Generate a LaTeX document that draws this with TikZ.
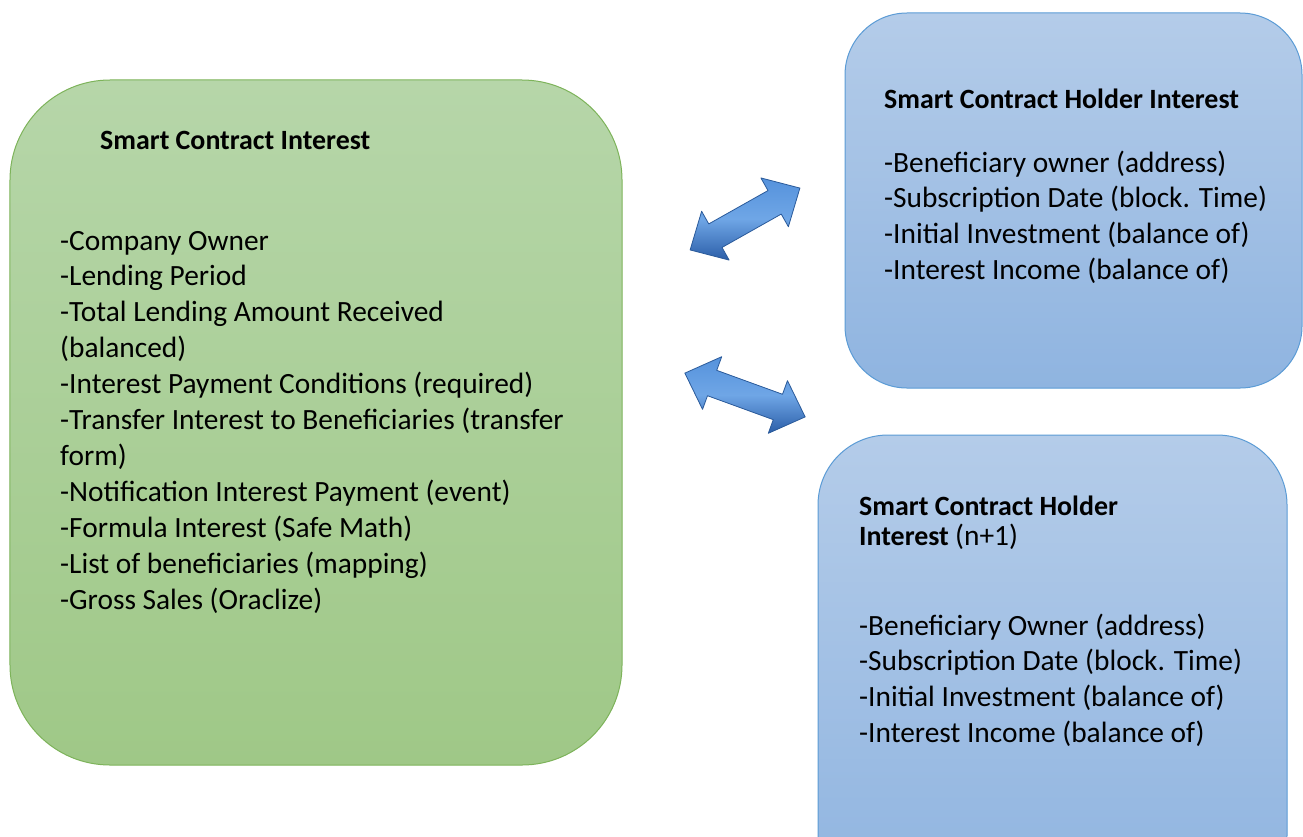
\documentclass[tikz,border=0pt]{standalone}
\usepackage{fontspec}
\setmainfont{Carlito}
\definecolor{grnT}{HTML}{B6D6A9}
\definecolor{grnB}{HTML}{9FC887}
\definecolor{grnE}{HTML}{7DB35A}
\definecolor{bluT}{HTML}{B4CCE9}
\definecolor{bluB}{HTML}{8FB4E0}
\definecolor{bluE}{HTML}{5B9BD5}
\definecolor{arrT}{HTML}{5592DC}
\definecolor{arrM}{HTML}{6FA6E6}
\definecolor{arrB}{HTML}{2B5EA8}
\definecolor{arrE}{HTML}{2A5A9A}
\begin{document}
\begin{tikzpicture}[x=1bp,y=-1bp,
  gbox/.style={draw=grnE, line width=1bp, rounded corners=100bp, top color=grnT, bottom color=grnB, minimum width=612bp, minimum height=685bp, inner sep=0pt},
  bbox/.style={draw=bluE, line width=1bp, top color=bluT, bottom color=bluB, inner sep=0pt},
  dblarrow/.style={draw=arrE, line width=0.8bp, line join=round, top color=arrT, bottom color=arrB, middle color=arrM},
  body/.style={anchor=base west, inner sep=0pt, font=\fontsize{29.5}{36}\selectfont},
  title/.style={anchor=base west, inner sep=0pt, font=\fontsize{28}{30}\selectfont\bfseries}
]
\useasboundingbox (0,0) rectangle (1303,836);
\clip (0,0) rectangle (1303,836);
% boxes
\node[gbox] (green) at (316,422.5) {};
\node[bbox, rounded corners=62bp, minimum width=457bp, minimum height=375bp] (holder) at (1073.5,200.5) {};
\node[bbox, rounded corners=70bp, minimum width=469bp, minimum height=470bp] (holdern) at (1052.5,670) {};
% arrows
\coordinate (a1) at (745,219);
\coordinate (a2) at (745,395);
\begin{scope}[shift={(a1)}, rotate=29.4]
  \path[dblarrow] (-63,0) -- (-34,-28) -- (-34,-13.5) -- (34,-13.5) -- (34,-28) -- (63,0) -- (34,28) -- (34,13.5) -- (-34,13.5) -- (-34,28) -- cycle;
\end{scope}
\begin{scope}[shift={(a2)}, rotate=-20]
  \path[dblarrow] (-64,0) -- (-35,-28) -- (-35,-13.5) -- (35,-13.5) -- (35,-28) -- (64,0) -- (35,28) -- (35,13.5) -- (-35,13.5) -- (-35,28) -- cycle;
\end{scope}
% green text
\node[title] (gt) at (100,149) {Smart Contract Interest};
\foreach \t [count=\i] in {{-Company Owner},{-Lending Period},{-Total Lending Amount Received},{(balanced)},{-Interest Payment Conditions (required)},{-Transfer Interest to Beneficiaries (transfer},{form)},{-Notification Interest Payment (event)},{-Formula Interest (Safe Math)},{-List of beneficiaries (mapping)},{-Gross Sales (Oraclize)}}
  \node[body] (g\i) at (60,{250+35.9*(\i-1)}) {\t};
% top right text
\node[title] (ht) at (884,108) {Smart Contract Holder Interest};
\foreach \t [count=\i] in {{-Beneficiary owner (address)},{-Subscription Date (block. Time)},{-Initial Investment (balance of)},{-Interest Income (balance of)}}
  \node[body] (h\i) at (884,{172+35.7*(\i-1)}) {\t};
% bottom right text
\node[title] (nt1) at (859,515) {Smart Contract Holder};
\node[title] (nt2) at (859,545) {Interest \mdseries\fontsize{29.5}{30}\selectfont(n+1)};
\foreach \t [count=\i] in {{-Beneficiary Owner (address)},{-Subscription Date (block. Time)},{-Initial Investment (balance of)},{-Interest Income (balance of)}}
  \node[body] (n\i) at (859,{635+35.7*(\i-1)}) {\t};
\end{tikzpicture}
\end{document}
